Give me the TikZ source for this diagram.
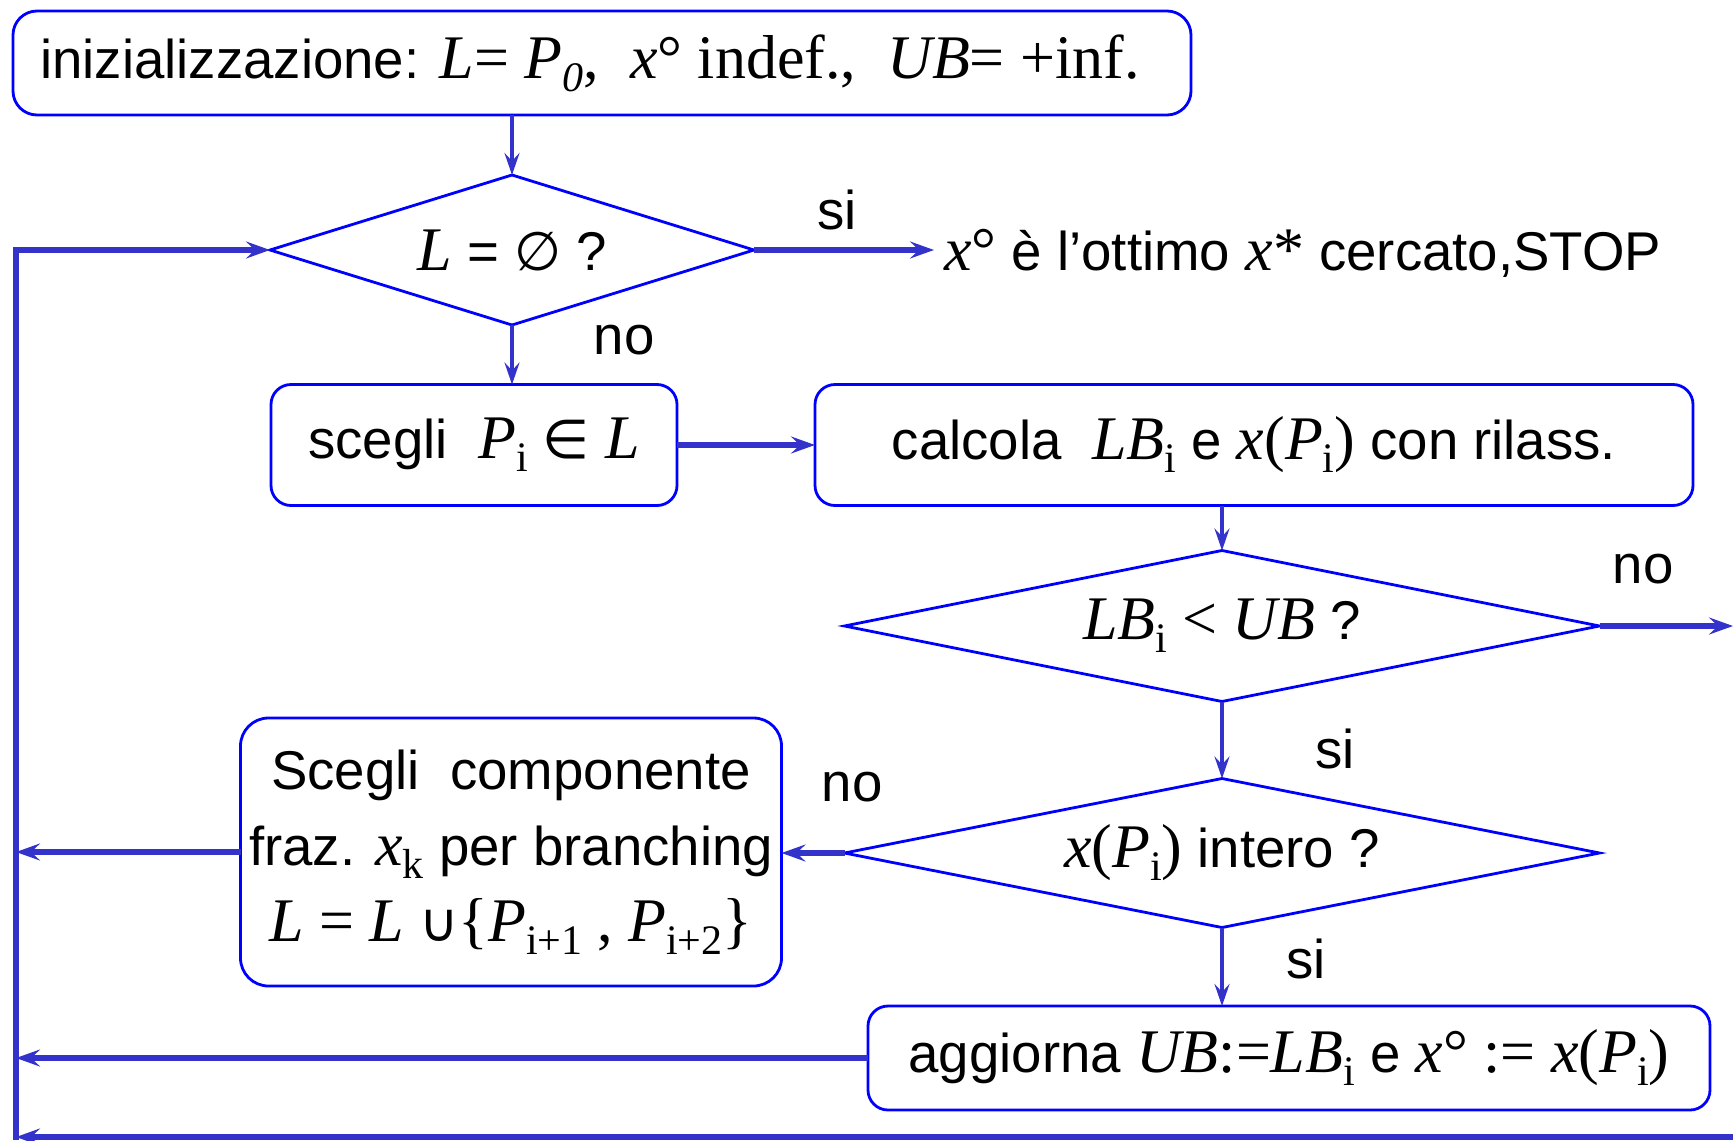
\documentclass[tikz,border=0pt]{standalone}
\usepackage{fontspec}
\setmainfont{Liberation Sans}
\newfontfamily\tm{Liberation Serif}
\newfontfamily\dvs{DejaVu Sans}
\usetikzlibrary{shapes.geometric,arrows.meta}
\definecolor{outl}{RGB}{0,0,255}
\definecolor{conn}{RGB}{51,51,204}
\newcommand{\mv}[1]{{\tm\itshape\fontsize{31}{36}\selectfont #1}}
\newcommand{\sr}[1]{{\tm\fontsize{31}{36}\selectfont #1}}
\newcommand{\sbs}[1]{\raisebox{-0.45ex}{\tm\fontsize{21}{21}\selectfont #1}}
\newcommand{\sbi}[1]{\raisebox{-0.45ex}{\tm\itshape\fontsize{21}{21}\selectfont #1}}
\newcommand{\sy}[1]{{\dvs\fontsize{27}{34}\selectfont #1}}
\tikzset{
  box/.style={draw=outl, line width=1.4pt, rounded corners=10pt, inner sep=0pt, outer sep=0pt},
  dia/.style={draw=outl, line width=1.4pt, diamond, inner sep=0pt, outer sep=0pt},
  thinarr/.style={draw=conn, line width=1.6pt, -{Stealth[length=11pt,width=7.5pt,inset=4pt]}},
  thickarr/.style={draw=conn, line width=2.6pt, line join=miter, -{Stealth[length=12pt,width=8.5pt,inset=4.5pt]}},
  lbl/.style={inner sep=0pt}
}
\begin{document}
\begin{tikzpicture}[x=0.5pt,y=-0.5pt,font=\fontsize{27.3}{38}\selectfont]
\useasboundingbox (0,0) rectangle (1733,1140);
\node[box, rounded corners=12pt, minimum width=589pt, minimum height=52pt] (init) at (602,63)
  {inizializzazione: \sr{\mv{L}= \mv{P}\sbi{0}, \ \mv{x}° indef., \ \mv{UB}= +inf.}\hspace*{12pt}};
\node[dia, aspect=3.2, minimum width=242pt, minimum height=75pt] (d1) at (512,250) {\mv{L} = \sy{∅} ?};
\node[lbl, anchor=west, inner xsep=5pt] (stop) at (934,253)
  {\mv{x}\sr{°} è l’ottimo \mv{x}\sr{*} cercato,STOP};
\node[box, minimum width=203pt, minimum height=60.5pt] (b2) at (474,445)
  {scegli \ \mv{P}\sbs{i} \sy{∈} \mv{L}};
\node[box, minimum width=439pt, minimum height=60.5pt] (b3) at (1254,445)
  {calcola \ \mv{LB}\sbs{i} e \mv{x}\sr{(}\mv{P}\sbs{i}\sr{)} con rilass.};
\node[dia, aspect=5, minimum width=377.5pt, minimum height=75.5pt] (d2) at (1222,626)
  {\mv{LB}\sbs{i} \sr{<} \mv{UB} ?};
\node[dia, aspect=5, minimum width=377.5pt, minimum height=74.5pt] (d3) at (1222,853)
  {\mv{x}\sr{(}\mv{P}\sbs{i}\sr{)} intero ?};
\node[box, rounded corners=14pt, minimum width=270.5pt, minimum height=134pt, align=center] (b4) at (511,852)
  {Scegli \ componente\\ fraz. \mv{x}\sbs{k} per branching\\
   \mv{L} \sr{=} \mv{L} \sy{∪}\sr{\{}\mv{P}\sbs{i+1} \sr{,} \mv{P}\sbs{i+2}\sr{\}}};
\node[box, minimum width=421pt, minimum height=52pt] (b5) at (1289,1058)
  {aggiorna \mv{UB}\sr{:=}\mv{LB}\sbs{i} e \mv{x}\sr{° := }\mv{x}\sr{(}\mv{P}\sbs{i}\sr{)}};
\node[lbl] (si1) at (837,210) {si};
\node[lbl] (no1) at (624,340) {no};
\node[lbl] (no2) at (1643,569) {no};
\node[lbl] (si2) at (1335,749) {si};
\node[lbl] (no3) at (852,787) {no};
\node[lbl] (si3) at (1306,959) {si};
\coordinate (rout) at (1733,626);
\coordinate (l4) at (16,852);
\coordinate (l5) at (16,1058);
\coordinate (bR) at (1733,1137);
\coordinate (bL) at (16,1137);
\coordinate (lB) at (16,1140);
\coordinate (lT) at (16,250);
\draw[thinarr] (d1.north |- init.south) -- (d1.north);
\draw[thickarr] (d1.east) -- (d1.east -| stop.west);
\draw[thinarr] (d1.south) -- (d1.south |- b2.north);
\draw[thickarr] (b2.east) -- (b3.west);
\draw[thinarr] (d2.north |- b3.south) -- (d2.north);
\draw[thickarr] (d2.east) -- (rout);
\draw[thinarr] (d2.south) -- (d3.north);
\draw[thickarr] (d3.west) -- (d3.west -| b4.east);
\draw[thickarr] (b4.west) -- (l4);
\draw[thinarr] (d3.south) -- (d3.south |- b5.north);
\draw[thickarr] (b5.west) -- (l5);
\draw[thickarr] (bR) -- (bL);
\draw[thickarr] (lB) -- (lT) -- (d1.west);
\end{tikzpicture}
\end{document}
